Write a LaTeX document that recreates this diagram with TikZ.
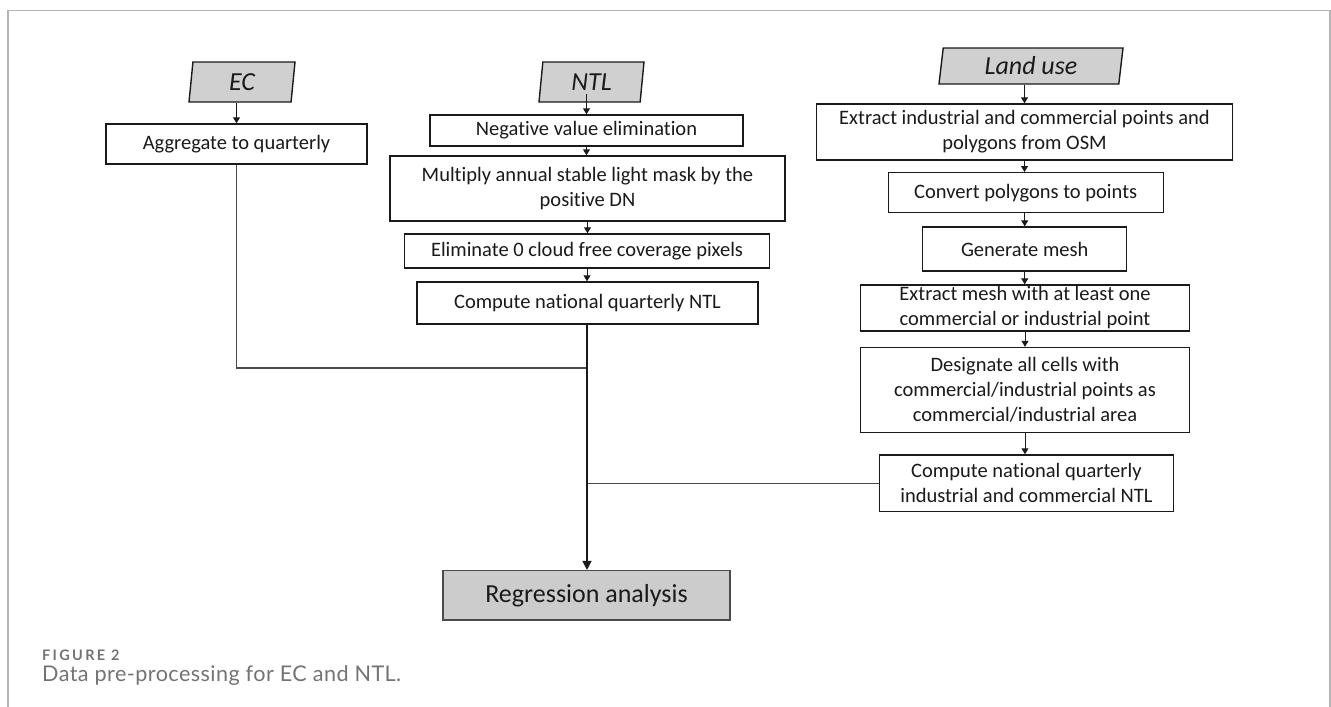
\documentclass[tikz,border=0pt]{standalone}
\usepackage{fontspec}
\setmainfont{Carlito}[Ligatures=CommonOff]
\newfontfamily\capfont{Lato}[LetterSpace=2]
\newfontfamily\capfontsp{Lato}[LetterSpace=16]
\usetikzlibrary{arrows.meta,shapes.geometric}
\definecolor{boxgray}{HTML}{D0D0D0}
\definecolor{reggray}{HTML}{CCCCCC}
\definecolor{framegray}{HTML}{B4B4B4}
\definecolor{capgray}{HTML}{737373}
\definecolor{linegray}{HTML}{4A4A4A}
\definecolor{ink}{HTML}{1A1A1A}
\begin{document}
\begin{tikzpicture}[x=1pt,y=-1pt,
  proc/.style={draw=ink, line width=1.4pt, fill=white, inner sep=0pt, align=center,
    font=\fontsize{20.5}{25}\selectfont, text=ink},
  inbox/.style={trapezium, trapezium left angle=77, trapezium right angle=103,
    trapezium stretches body, draw=ink, line width=1.4pt, fill=boxgray, inner sep=0pt,
    font=\fontsize{26}{30}\selectfont\itshape, text=ink},
  flow/.style={draw=ink, line width=1pt, -{Triangle[length=6pt,width=7pt]}},
  bigflow/.style={draw=ink, line width=1.2pt, -{Triangle[length=9pt,width=9pt]}},
  junction/.style={draw=linegray, line width=1.2pt},
  captext/.style={inner sep=0pt, anchor=base west, text=capgray},
]
\useasboundingbox (0,0) rectangle (1331,707);
% frame
\draw[framegray, line width=1.5pt] (8,707) -- (8,10.5) -- (1330,10.5) -- (1330,707);

% EC column
\node[inbox, minimum width=106pt, minimum height=40pt] (ec) at (242,82) {EC};
\node[proc, minimum width=261pt, minimum height=40pt] (agg) at (236.5,144) {Aggregate to quarterly};

% NTL column
\node[inbox, minimum width=105pt, minimum height=40pt] (ntl) at (591.5,82) {NTL};
\node[proc, minimum width=313pt, minimum height=31pt] (neg) at (586.5,130.5) {Negative value elimination};
\node[proc, minimum width=395pt, minimum height=65pt] (mul) at (587.5,188.5) {Multiply annual stable light mask by the\\positive DN};
\node[proc, minimum width=365pt, minimum height=34pt] (elim) at (587,251) {Eliminate 0 cloud free coverage pixels};
\node[proc, minimum width=341pt, minimum height=42pt] (cntl) at (587.5,303) {Compute national quarterly NTL};

% Land use column
\node[inbox, minimum width=184pt, minimum height=36pt] (land) at (1031,66) {Land use};
\node[proc, minimum width=416.5pt, minimum height=56pt] (ext) at (1024.5,132) {Extract industrial and commercial points and\\polygons from OSM};
\node[proc, minimum width=275pt, minimum height=40pt] (conv) at (1025.7,192.7) {Convert polygons to points};
\node[proc, minimum width=204pt, minimum height=44pt] (gen) at (1024.7,249) {Generate mesh};
\node[proc, minimum width=328.5pt, minimum height=46pt] (emesh) at (1025,308) {Extract mesh with at least one\\commercial or industrial point};
\node[proc, minimum width=328.5pt, minimum height=85pt] (desig) at (1025,390) {Designate all cells with\\commercial/industrial points as\\commercial/industrial area};
\node[proc, minimum width=293.6pt, minimum height=56.7pt] (cind) at (1026.4,483.3) {Compute national quarterly\\industrial and commercial NTL};

% Regression
\node[proc, draw=linegray, fill=reggray, minimum width=287pt, minimum height=49.3pt,
  font=\fontsize{26}{30}\selectfont] (reg) at (586.5,595.3) {Regression analysis};

\coordinate (j1) at (587,368);

% connectors
\draw[flow] (agg.north |- ec.south) -- (agg.north);
\draw[flow] ([yshift=9pt]neg.north |- ntl.south) -- (neg.north);
\draw[flow] (neg.south) -- (neg.south |- mul.north);
\draw[flow] (mul.south) -- (mul.south |- elim.north);
\draw[flow] (elim.south) -- (elim.south |- cntl.north);
\draw[flow] (ext.north |- land.south) -- (ext.north);
\draw[flow] (ext.south) -- (ext.south |- conv.north);
\draw[flow] (conv.south -| gen.north) -- (gen.north);
\draw[flow] (gen.south) -- (gen.south |- emesh.north);
\draw[flow] (emesh.south) -- (desig.north);
\draw[flow] (desig.south) -- (desig.south |- cind.north);

\draw[junction] (agg.south) |- (j1);
\draw[junction] (cind.west) -- (cind.west -| j1);
\draw[bigflow] (cntl.south -| j1) -- (reg.north -| j1);

% caption
\node[captext, font=\capfontsp\bfseries\fontsize{14.5}{16}\selectfont] (fig) at (42,660.5) {FIGURE 2};
\node[captext, font=\capfont\fontsize{21.6}{24}\selectfont] (captxt) at (42,681) {Data pre-processing for EC and NTL.};
\end{tikzpicture}
\end{document}
